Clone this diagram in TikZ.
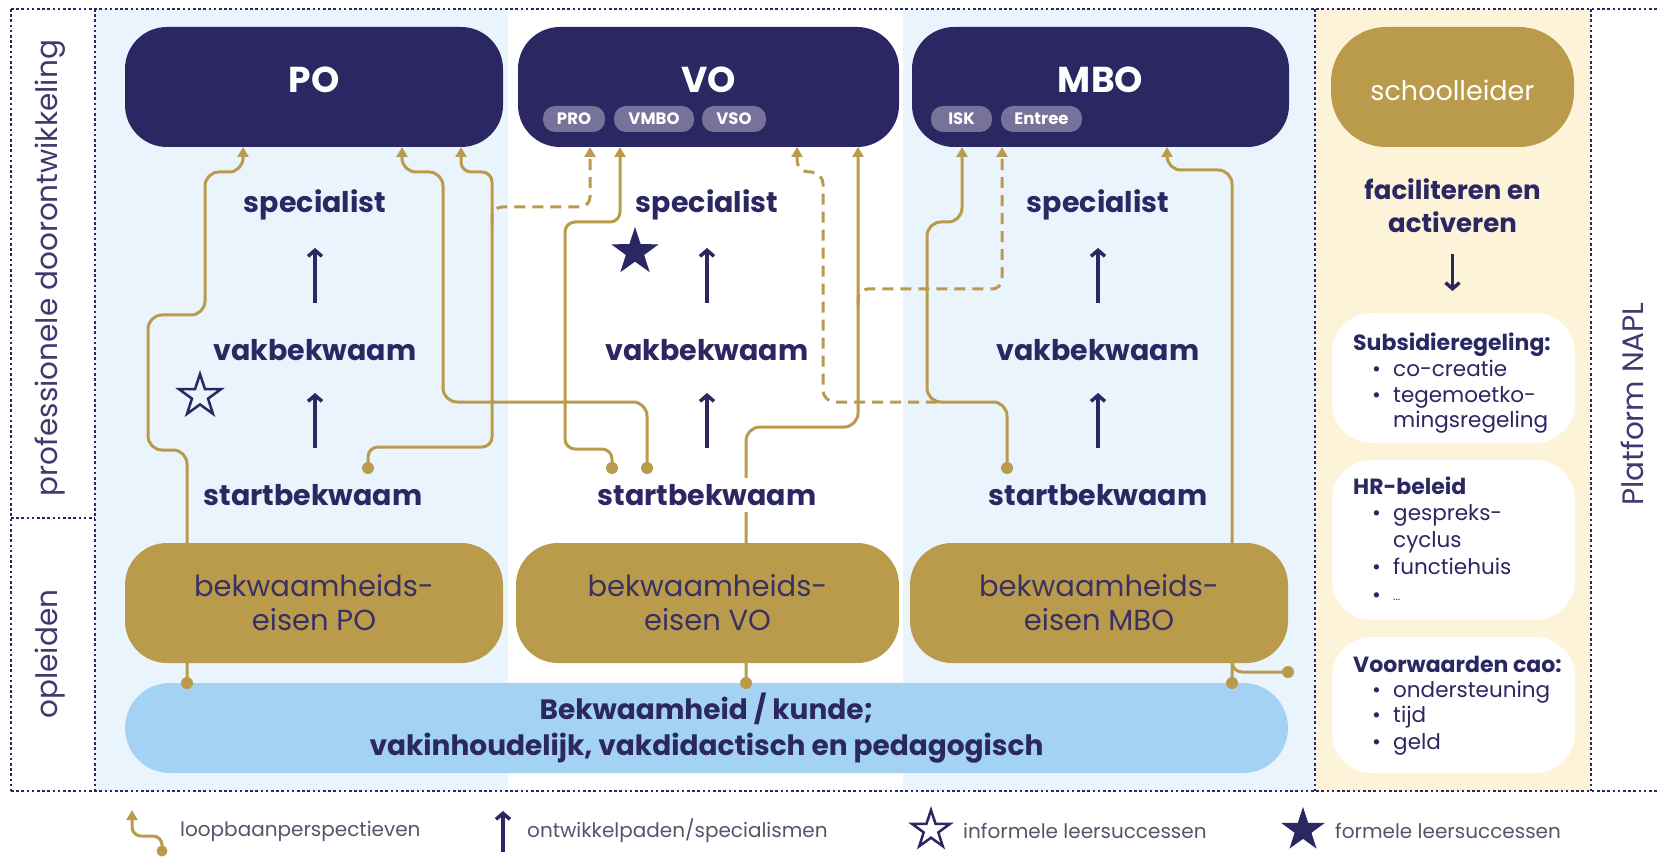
\documentclass[tikz,border=0pt]{standalone}
\usepackage{fontspec}
\setmainfont{Poppins}
\usetikzlibrary{arrows.meta,shapes.geometric}
\definecolor{navy}{HTML}{2A2762}
\definecolor{gold}{HTML}{BA9B4C}
\definecolor{lightbg}{HTML}{EAF4FD}
\definecolor{yellowbg}{HTML}{FDF3D8}
\definecolor{barblue}{HTML}{A4D2F2}
\definecolor{tagfill}{HTML}{76729A}
\definecolor{darktext}{HTML}{3A3163}
\definecolor{legtext}{HTML}{55556A}
\definecolor{labeltext}{HTML}{3D3A70}
\newcommand\myfs[2]{\fontsize{#1}{#2}\selectfont}
\begin{document}
\begin{tikzpicture}[x=1pt,y=-1pt,
  frame/.style={draw=navy, line width=2.8pt, dash pattern=on 2.6pt off 2.6pt},
  topbox/.style={fill=navy, rounded corners=42pt, minimum height=120pt, inner sep=0pt},
  goldbox/.style={fill=gold, rounded corners=42pt, minimum height=120pt, inner sep=0pt, text=darktext, align=center, font=\myfs{29}{34}},
  toptitle/.style={text=white, font=\myfs{36}{40}\bfseries},
  tag/.style={fill=tagfill, rounded corners=12pt, minimum height=26pt, inner sep=0pt, text=white, font=\myfs{16.5}{16}\bfseries},
  leveltxt/.style={text=navy, font=\myfs{28.5}{32}\bfseries, inner sep=2pt},
  devarrow/.style={draw=navy, line width=3.5pt, -{Straight Barb[length=6pt,width=14pt]}},
  career/.style={draw=gold, line width=3pt, rounded corners=14pt, -{Triangle[length=10pt,width=11pt]}},
  careerdash/.style={career, dash pattern=on 11pt off 7pt},
  dot/.style={circle, fill=gold, inner sep=0pt, minimum size=12pt},
  whitebox/.style={fill=white, rounded corners=40pt, minimum width=243pt, inner sep=0pt},
  paneltxt/.style={text=navy, font=\myfs{21.5}{25}, anchor=base west, inner sep=0pt},
  panelhead/.style={paneltxt, font=\myfs{22}{25}\bfseries},
  legendtxt/.style={text=legtext, font=\myfs{20}{24}, anchor=west, inner sep=0pt},
  sidelabel/.style={text=labeltext, font=\myfs{29.5}{32}, rotate=90}
]
\useasboundingbox (0,0) rectangle (1659,858);
\fill[white] (0,0) rectangle (1659,858);
% column backgrounds
\fill[lightbg] (95,9) rectangle (508,791);
\fill[lightbg] (903,9) rectangle (1315,791);
\fill[yellowbg] (1315,9) rectangle (1591,791);
% frame
\draw[frame] (11,9) -- (1659,9);
\draw[frame] (11,791) -- (1659,791);
\draw[frame] (11,9) -- (11,791);
\draw[frame] (95,9) -- (95,791);
\draw[frame] (11,518) -- (95,518);
\draw[frame] (1315,9) -- (1315,791);
\draw[frame] (1591,9) -- (1591,791);
% side labels
\node[sidelabel] (lblprof) at (50,268) {professionele doorontwikkeling};
\node[sidelabel] (lblopl) at (50,654) {opleiden};
\node[sidelabel] (lblnapl) at (1632,404) {Platform NAPL};

% named coordinates for connector ends
\coordinate (d1) at (187,683);
\coordinate (d2) at (647,468);
\coordinate (d3) at (368,468);
\coordinate (d4) at (612,468);
\coordinate (d5) at (746,683);
\coordinate (d6) at (1007,468);
\coordinate (d7) at (1232,683);
\coordinate (d8) at (1288,672);
\coordinate (tPO1) at (243,147);
\coordinate (tPO2) at (402,147);
\coordinate (tPO3) at (461,147);
\coordinate (tPRO) at (590,147);
\coordinate (tVMBO) at (620,147);
\coordinate (tVO1) at (797,147);
\coordinate (tVO2) at (858,147);
\coordinate (tISK) at (962,147);
\coordinate (tEntree) at (1002,147);
\coordinate (tMBO) at (1167,147);
\coordinate (b3) at (492,225);
\coordinate (b5) at (858,305);
\coordinate (b6) at (937,402);
\coordinate (b7) at (1232,655);

% career paths
\draw[career] (d1) -- (187,450) -- (148,450) -- (148,315) -- (205,315) -- (205,172) -- (243,172) -- (tPO1);
\draw[career] (d2) -- (647,402) -- (443,402) -- (443,172) -- (402,172) -- (tPO2);
\draw[career, rounded corners=10pt] (d3) -- (368,447) -- (492,447) -- (492,172) -- (461,172) -- (tPO3);
\draw[careerdash, rounded corners=10pt] (b3) -- (492,207) -- (590,207) -- (tPRO);
\draw[career, rounded corners=10pt] (d4) -- (612,449) -- (565,449) -- (565,222) -- (620,222) -- (tVMBO);
\draw[career] (d5) -- (746,427) -- (858,427) -- (tVO2);
\draw[careerdash, rounded corners=10pt] (b5) -- (858,289) -- (1002,289) -- (tEntree);
\draw[career] (d6) -- (1007,402) -- (927,402) -- (927,222) -- (962,222) -- (tISK);
\draw[careerdash, rounded corners=12pt] (b6) -- (823,402) -- (823,172) -- (797,172) -- (tVO1);
\draw[career] (d7) -- (1232,170) -- (1167,170) -- (tMBO);
\draw[draw=gold, line width=3pt, rounded corners=10pt] (b7) -- (1232,672) -- (d8);

% top boxes
\node[topbox, minimum width=378pt] (po) at (314,87) {};
\node[topbox, minimum width=381pt] (vo) at (708.5,87) {};
\node[topbox, minimum width=377pt] (mbo) at (1100.5,87) {};
\node[toptitle] (potxt) at (314,80) {PO};
\node[toptitle] (votxt) at (708.5,80) {VO};
\node[toptitle] (mbotxt) at (1100.5,80) {MBO};
\node[tag, minimum width=62pt] (pro) at (574,119) {PRO};
\node[tag, minimum width=80pt] (vmbo) at (654,119) {VMBO};
\node[tag, minimum width=64pt] (vso) at (734,119) {VSO};
\node[tag, minimum width=61pt] (isk) at (961.5,119) {ISK};
\node[tag, minimum width=81pt] (entree) at (1041.5,119) {Entree};

% schoolleider
\node[fill=gold, rounded corners=55pt, minimum width=243pt, minimum height=120pt, inner sep=0pt] (school) at (1452.5,87) {};
\node[text=white, font=\myfs{27}{30}] (schooltxt) at (1452.5,90) {schoolleider};
\node[text=navy, font=\myfs{26}{33}\bfseries, align=center] (facil) at (1452.5,206) {faciliteren en\\activeren};
\draw[devarrow] (1452.5,254) -- (1452.5,291);

% levels
\node[leveltxt] (poSpec) at (315,205) {specialist};
\node[leveltxt] (poVak) at (315,350) {vakbekwaam};
\node[leveltxt] (poStart) at (313,495) {startbekwaam};
\node[leveltxt] (voSpec) at (707,205) {specialist};
\node[leveltxt] (voVak) at (707,350) {vakbekwaam};
\node[leveltxt, fill=white, inner sep=6pt] (voStart) at (707,495) {startbekwaam};
\node[leveltxt] (mboSpec) at (1098,205) {specialist};
\node[leveltxt] (mboVak) at (1098,350) {vakbekwaam};
\node[leveltxt] (mboStart) at (1098,495) {startbekwaam};
\foreach \cx in {315,707,1098}{
  \draw[devarrow] (\cx,303) -- (\cx,248);
  \draw[devarrow] (\cx,448) -- (\cx,393);
}
% stars
\node[star, star points=5, star point ratio=2.6, draw=navy, line width=2.5pt, minimum size=44pt, inner sep=0pt] (informal) at (200,396) {};
\node[star, star points=5, star point ratio=2.6, fill=navy, minimum size=50pt, inner sep=0pt] (formal) at (635,252) {};

% bekwaamheidseisen
\node[goldbox, minimum width=378pt] (bkpo) at (314,603) {bekwaamheids-\\eisen PO};
\node[goldbox, minimum width=383pt] (bkvo) at (707.5,603) {bekwaamheids-\\eisen VO};
\node[goldbox, minimum width=378pt] (bkmbo) at (1099,603) {bekwaamheids-\\eisen MBO};
% bar
\node[fill=barblue, rounded corners=45pt, minimum width=1163pt, minimum height=90pt, inner sep=0pt, text=navy, align=center, font=\myfs{28}{36}\bfseries] (bar) at (706.5,728) {Bekwaamheid / kunde;\\vakinhoudelijk, vakdidactisch en pedagogisch};

% dots
\foreach \d in {d1,d2,d3,d4,d5,d6,d7,d8}{ \node[dot] at (\d) {}; }

% right panel boxes
\node[whitebox, minimum height=130pt] (wb1) at (1453.5,378) {};
\node[whitebox, minimum height=160pt] (wb2) at (1453.5,540) {};
\node[whitebox, minimum height=136pt] (wb3) at (1453.5,705) {};
\node[panelhead] (h1) at (1353,350) {Subsidieregeling:};
\node[paneltxt] (h1a) at (1372,377) {•};
\node[paneltxt] (h1at) at (1393,377) {co-creatie};
\node[paneltxt] (h1b) at (1372,402) {•};
\node[paneltxt] (h1bt) at (1393,402) {tegemoetko-};
\node[paneltxt] (h1bu) at (1393,427) {mingsregeling};
\node[panelhead] (h2) at (1353,494) {HR-beleid};
\node[paneltxt] (h2a) at (1372,520) {•};
\node[paneltxt] (h2at) at (1393,520) {gespreks-};
\node[paneltxt] (h2au) at (1393,547) {cyclus};
\node[paneltxt] (h2b) at (1372,574) {•};
\node[paneltxt] (h2bt) at (1393,574) {functiehuis};
\node[paneltxt] (h2c) at (1372,602) {•};
\node[paneltxt, font=\myfs{11}{12}] (h2ct) at (1393,600) {...};
\node[panelhead] (h3) at (1353,672) {Voorwaarden cao:};
\node[paneltxt] (h3a) at (1372,697) {•};
\node[paneltxt] (h3at) at (1393,697) {ondersteuning};
\node[paneltxt] (h3b) at (1372,722) {•};
\node[paneltxt] (h3bt) at (1393,722) {tijd};
\node[paneltxt] (h3c) at (1372,749) {•};
\node[paneltxt] (h3ct) at (1393,749) {geld};

% legend
\coordinate (lgdot) at (162,851);
\coordinate (lgtip) at (132,810);
\draw[career, rounded corners=9pt] (lgdot) -- (162,836) -- (132,836) -- (lgtip);
\node[dot, minimum size=11pt] (lgdotn) at (lgdot) {};
\node[legendtxt] (lg1) at (180,831) {loopbaanperspectieven};
\draw[devarrow] (503,852) -- (503,811);
\node[legendtxt] (lg2) at (527,831) {ontwikkelpaden/specialismen};
\node[star, star points=5, star point ratio=2.6, draw=navy, line width=2.5pt, minimum size=40pt, inner sep=0pt] (lgs1) at (931,830) {};
\node[legendtxt] (lg3) at (963,831) {informele leersuccessen};
\node[star, star points=5, star point ratio=2.6, fill=navy, minimum size=46pt, inner sep=0pt] (lgs2) at (1303,830) {};
\node[legendtxt] (lg4) at (1335,831) {formele leersuccessen};
\end{tikzpicture}
\end{document}
